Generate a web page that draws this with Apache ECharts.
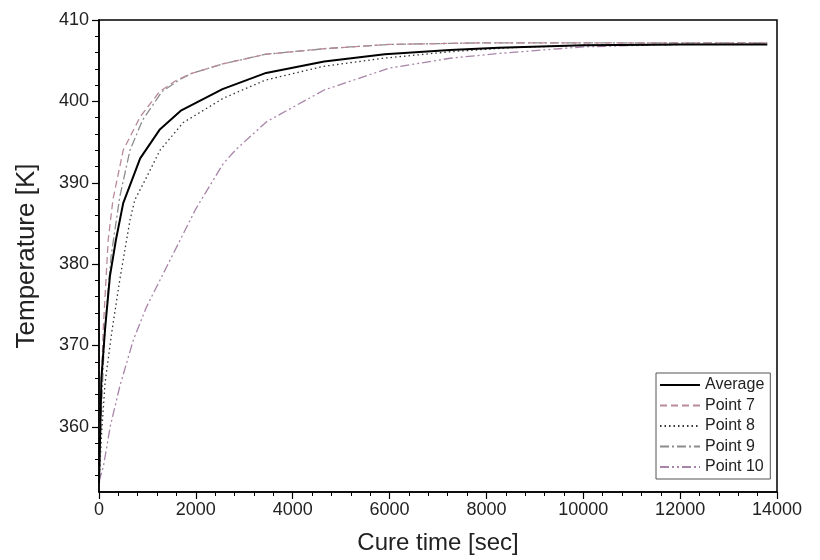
<!DOCTYPE html>
<html>
<head>
<meta charset="utf-8">
<script src="https://cdn.jsdelivr.net/npm/echarts@6/dist/echarts.min.js"></script>
<style>html,body{margin:0;padding:0;background:#fff}#c{width:820px;height:560px}</style>
</head>
<body>
<div id="c"></div>
<script>
var seriesNames = ['Average', 'Point 7', 'Point 8', 'Point 9', 'Point 10'];
var tAvg = [0, 50, 125, 225, 350, 500, 850, 1250, 1700, 2550, 3450, 4650, 5900, 7250, 8250, 10000, 12000, 13800];
var vAvg = [353, 366, 372, 378.5, 383, 387.5, 393, 396.5, 398.9, 401.5, 403.5, 404.9, 405.8, 406.3, 406.6, 406.9, 407.0, 407.0];
var tP7 = [0, 40, 90, 190, 290, 500, 850, 1250, 1600, 1900, 2550, 3450, 4700, 6000, 8000, 10000, 12000, 13800];
var vP7 = [353, 364, 372.3, 383, 388, 394, 398.1, 401.2, 402.6, 403.4, 404.6, 405.8, 406.5, 407.0, 407.2, 407.2, 407.2, 407.2];
var tP8 = [0, 55, 125, 260, 430, 640, 740, 950, 1260, 1740, 2570, 3430, 4630, 5870, 7250, 8500, 10000, 12000, 13800];
var vP8 = [353, 359.3, 365.4, 371.5, 378.1, 385.4, 387.9, 390.3, 394.0, 397.4, 400.4, 402.6, 404.3, 405.3, 406.1, 406.6, 406.9, 407.0, 407.0];
var tP9 = [0, 50, 120, 250, 430, 640, 900, 1300, 1700, 1900, 2550, 3450, 4700, 6000, 8000, 10000, 12000, 13800];
var vP9 = [353, 362, 372, 381, 388.3, 394, 397.7, 401.2, 402.8, 403.4, 404.6, 405.8, 406.5, 407.0, 407.2, 407.2, 407.2, 407.2];
var tP10 = [0, 90, 230, 430, 710, 985, 1400, 2000, 2570, 2850, 3460, 4650, 6000, 7250, 8280, 10000, 12000, 13800];
var vP10 = [353.3, 355.1, 360, 365, 370.7, 374.8, 379.7, 386.8, 392.4, 394.2, 397.5, 401.4, 404.1, 405.3, 405.9, 406.7, 407.0, 407.1];
var yMajor = [360, 370, 380, 390, 400, 410];
var yMinor = [354, 356, 358, 362, 364, 366, 368, 372, 374, 376, 378, 382, 384, 386, 388, 392, 394, 396, 398, 402, 404, 406, 408];

function pairs(t, v) { return t.map(function (x, i) { return [x, v[i]]; }); }

var font = 'Liberation Sans, Arial, sans-serif';
var styles = [
  { color: '#000000', width: 2, type: 'solid' },
  { color: '#b88a9a', width: 1.3, type: [7, 4] },
  { color: '#333333', width: 1.3, type: [1.5, 3] },
  { color: '#8c8c8c', width: 1.3, type: [9, 3, 2, 3] },
  { color: '#a884a8', width: 1.3, type: [9, 3, 2, 3, 2, 3] }
];
var dataSets = [pairs(tAvg, vAvg), pairs(tP7, vP7), pairs(tP8, vP8), pairs(tP9, vP9), pairs(tP10, vP10)];

var chart = echarts.init(document.getElementById('c'), null, { renderer: 'canvas' });
chart.setOption({
  animation: false,
  backgroundColor: '#fff',
  grid: { left: 99, top: 20, right: 43, bottom: 68, show: true, borderColor: '#000', borderWidth: 1.5, backgroundColor: 'transparent' },
  legend: {
    orient: 'vertical', left: 656, top: 373,
    itemWidth: 40, itemHeight: 14, itemGap: 4.5,
    padding: [4, 6, 4, 3],
    borderColor: '#555', borderWidth: 1, backgroundColor: '#fff',
    itemStyle: { opacity: 0 },
    textStyle: { fontFamily: font, fontSize: 16, color: '#222' },
    data: seriesNames
  },
  xAxis: {
    type: 'value', min: 0, max: 14000, interval: 2000,
    name: 'Cure time [sec]', nameLocation: 'middle', nameGap: 39,
    nameTextStyle: { fontFamily: font, fontSize: 24, color: '#222' },
    axisLine: { lineStyle: { color: '#000', width: 1.5 } },
    axisTick: { show: true, length: 7, inside: false, lineStyle: { color: '#000', width: 1.2 } },
    minorTick: { show: true, splitNumber: 5, length: 4, lineStyle: { color: '#000', width: 1 } },
    axisLabel: { fontFamily: font, fontSize: 18, color: '#222', margin: 9, formatter: function (v) { return String(v); } },
    splitLine: { show: false }
  },
  yAxis: [{
    type: 'value', min: 352, max: 410,
    name: 'Temperature [K]', nameLocation: 'middle', nameGap: 59,
    nameTextStyle: { fontFamily: font, fontSize: 26, color: '#222' },
    axisLine: { show: true, lineStyle: { color: '#000', width: 1.5 } },
    axisTick: { show: true, length: 7, customValues: yMajor, lineStyle: { color: '#000', width: 1.2 } },
    axisLabel: { fontFamily: font, fontSize: 18, color: '#222', margin: 10, customValues: yMajor },
    splitLine: { show: false }
  }, {
    type: 'value', min: 352, max: 410, position: 'left',
    axisLine: { show: false },
    axisTick: { show: true, length: 4, customValues: yMinor, lineStyle: { color: '#000', width: 1 } },
    axisLabel: { show: false },
    splitLine: { show: false }
  }],
  series: seriesNames.map(function (n, i) {
    return {
      name: n, type: 'line', data: dataSets[i], yAxisIndex: 0,
      showSymbol: false, symbol: 'none', smooth: false,
      lineStyle: styles[i], itemStyle: { color: styles[i].color },
      z: 10 - i
    };
  })
});
</script>
</body>
</html>
